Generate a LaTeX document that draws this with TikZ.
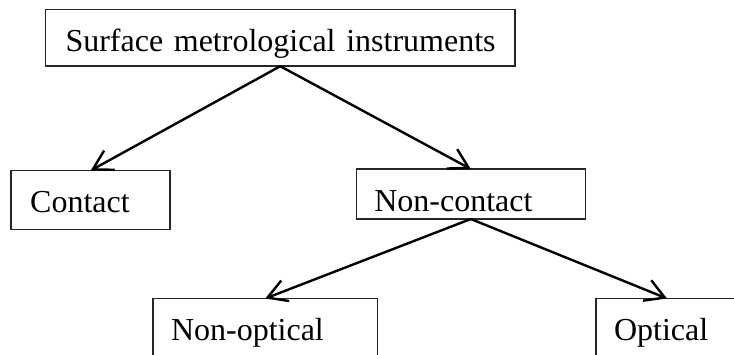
\documentclass[tikz,border=0pt]{standalone}
\usepackage{fontspec}
\setmainfont{Liberation Serif}
\usetikzlibrary{arrows.meta}
\begin{document}
\begin{tikzpicture}[x=1pt,y=-1pt,
  box/.style={draw=black!85, line width=1.5pt, anchor=north west, align=left,
    font=\fontsize{32}{38}\selectfont, inner ysep=0pt, outer sep=0pt},
  conn/.style={line width=2.4pt, -{Straight Barb[length=19pt,width=22pt,line width=2.4pt]}}]
\clip (0,0) rectangle (734,354);
\fill[white] (0,0) rectangle (734,354);
\node[box, inner xsep=20pt, text width=429.5pt, text height=42.4pt, text depth=14.3pt] (top) at (45.5,9.5) {\mbox{Surface metrological instruments}};
\node[box, inner xsep=19pt, text width=121pt, text height=42.2pt, text depth=16.8pt] (contact) at (11.2,170.5) {\mbox{Contact}};
\node[box, inner xsep=18pt, text width=193pt, text height=42.7pt, text depth=7.3pt] (noncontact) at (356.3,169) {\mbox{Non-contact}};
\node[box, inner xsep=18pt, text width=188.5pt, text height=41.5pt, text depth=30pt] (nonoptical) at (153,298.5) {\mbox{Non-optical}};
\node[box, inner xsep=18pt, text width=106pt, text height=41.5pt, text depth=30pt] (optical) at (596,298.5) {\mbox{Optical}};
\draw[conn] (top.south) -- (contact.north);
\draw[conn] (top.south) -- (noncontact.north);
\draw[conn] (noncontact.south) -- (nonoptical.north);
\draw[conn] (noncontact.south) -- (optical.north);
\end{tikzpicture}
\end{document}
